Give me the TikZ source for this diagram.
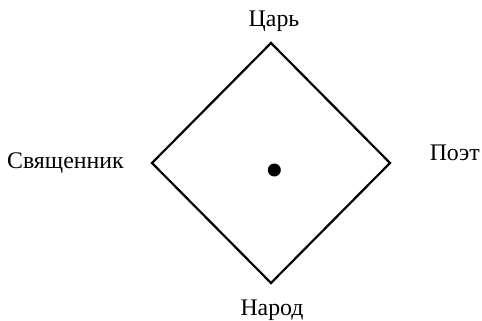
\documentclass[tikz,border=0pt]{standalone}
\usepackage{fontspec}
\setmainfont{Liberation Serif}
\usepackage{tikz}
\usetikzlibrary{positioning}

\begin{document}
\begin{tikzpicture}[
    x=1pt, y=-1pt,
    role/.style={font=\fontsize{23.8}{28}\selectfont, inner sep=0pt},
    frame/.style={line width=2.2pt, line join=miter},
    centre/.style={fill=black, circle, inner sep=0pt, minimum size=13pt},
]
\useasboundingbox (0,0) rectangle (482,321);

\coordinate (top) at (271,43);
\coordinate (left) at (152,163);
\coordinate (right) at (390,163);
\coordinate (bottom) at (271,283);

\node[role, anchor=base] (tsar) at (274,26.5) {Царь};
\node[role, anchor=base west] (priest) at (7,168) {Священник};
\node[role, anchor=base east] (poet) at (480,160) {Поэт};
\node[role, anchor=base] (people) at (272,315) {Народ};

\draw[frame] (top) -- (right) -- (bottom) -- (left) -- cycle;
\node[centre] (dot) at (274.3,170) {};
\end{tikzpicture}
\end{document}
